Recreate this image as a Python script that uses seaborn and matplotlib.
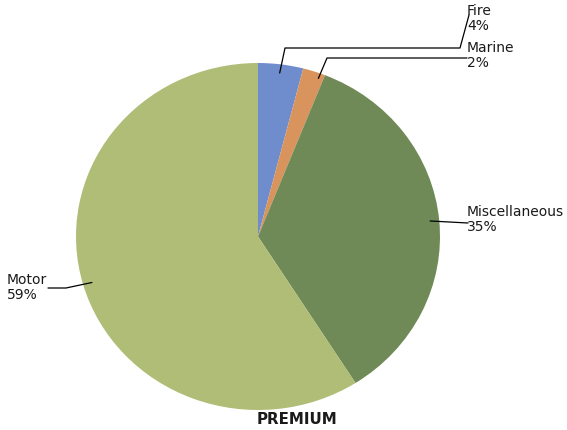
import numpy as np
import matplotlib
matplotlib.use("Agg")
import matplotlib.pyplot as plt
import seaborn as sns

sns.set_style("white")
plt.rcParams['font.family'] = ['DejaVu Sans']

# data
categories = ["Fire", "Marine", "Miscellaneous", "Motor"]
shares = [4, 2, 35, 59]
colors = ["#6f8ccc", "#d9935c", "#6f8a57", "#afbd77"]

W, H = 567, 430
fig = plt.figure(figsize=(W / 100, H / 100), dpi=100)

# pie box in pixels (slightly elliptical like the original)
left, right, top, bottom = 76, 440, 63, 410
ax = fig.add_axes([left / W, 1 - bottom / H, (right - left) / W, (bottom - top) / H])
wedges, _ = ax.pie(shares, colors=colors, startangle=90, counterclock=False,
                   radius=1.0, wedgeprops=dict(linewidth=0))
ax.set_xlim(-1, 1)
ax.set_ylim(-1, 1)
ax.set_aspect("auto")
ax.axis("off")


def px(x, y):
    return x / W, 1 - y / H


# label text positions (top-left, pixels) and leader line elbows
label_pos = {
    "Fire": (467, 4),
    "Marine": (467, 41),
    "Miscellaneous": (467, 205),
    "Motor": (7, 273),
}
elbows = {
    "Fire": [(285, 48), (460, 48), (469, 15)],
    "Marine": [(327, 58), (467, 58)],
    "Miscellaneous": [(468, 223)],
    "Motor": [(66, 288), (48, 288)],
}
anchor_r = {"Fire": 0.95, "Marine": 0.97, "Miscellaneous": 0.95, "Motor": 0.95}

# anchor points on each wedge
cum = np.cumsum([0] + shares[:-1])
for name, start, val in zip(categories, cum, shares):
    mid = np.deg2rad(90 - (start + val / 2) * 3.6)
    if name == "Marine":
        mid -= np.deg2rad(2)
    r = anchor_r[name]
    ax_pt = ax.transData.transform((r * np.cos(mid), r * np.sin(mid)))
    fx, fy = fig.transFigure.inverted().transform(ax_pt)
    pts = [(fx, fy)] + [px(*p) for p in elbows[name]]
    xs, ys = zip(*pts)
    fig.add_artist(plt.Line2D(xs, ys, transform=fig.transFigure,
                              color="black", linewidth=0.9))
    tx, ty = px(*label_pos[name])
    fig.text(tx, ty, f"{name}\n{val}%", ha="left", va="top",
             fontsize=10, color="#1a1a1a", linespacing=1.1)

fig.text(*px(297, 420), "PREMIUM", ha="center", va="center",
         fontsize=10.8, fontweight="bold", color="#1a1a1a")

fig.savefig("out.png", dpi=100, facecolor="white")
